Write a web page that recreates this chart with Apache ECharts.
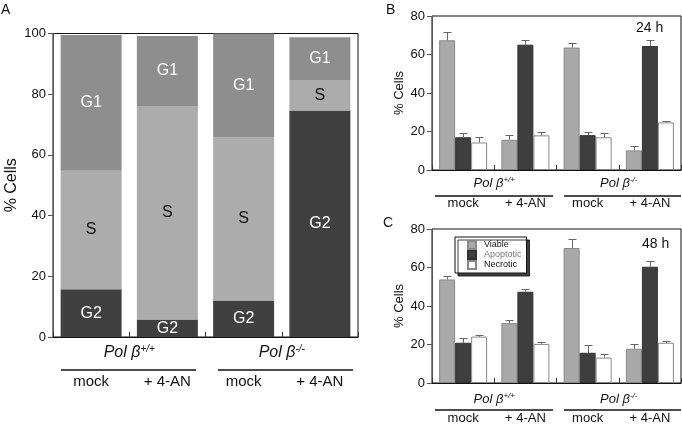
<!DOCTYPE html>
<html>
<head>
<meta charset="utf-8">
<script src="https://cdn.jsdelivr.net/npm/echarts@6/dist/echarts.min.js"></script>
<style>html,body{margin:0;padding:0;background:#fff;}#c{width:682px;height:425px;}</style>
</head>
<body>
<div id="c"></div>
<script>
// ---- data ----
var treatments = ['mock', '+ 4-AN', 'mock', '+ 4-AN'];
var genotypes = ['+/+', '-/-'];
var yTicksA = [0, 20, 40, 60, 80, 100];
var yTicksBC = [0, 20, 40, 60, 80];

// Panel A: cell cycle phases (%)
var phaseG2 = [15.7, 5.8, 12.0, 74.6];
var phaseS  = [39.1, 70.3, 53.7, 10.1];
var phaseG1 = [44.7, 23.1, 34.3, 14.1];

// Panel B: 24 h
var viable24    = [67.4, 15.7, 63.6, 10.2];
var viable24Err = [4.3, 2.3, 2.6, 2.2];
var apopt24     = [17.0, 65.1, 18.1, 64.4];
var apopt24Err  = [2.0, 2.3, 1.9, 3.0];
var necro24     = [14.3, 18.0, 17.0, 24.7];
var necro24Err  = [3.1, 1.5, 2.0, 1.0];

// Panel C: 48 h
var viable48    = [53.8, 31.1, 70.1, 17.8];
var viable48Err = [1.9, 1.6, 4.8, 2.7];
var apopt48     = [20.9, 47.4, 15.7, 60.4];
var apopt48Err  = [2.5, 1.5, 4.1, 2.8];
var necro48     = [24.1, 20.3, 13.2, 20.9];
var necro48Err  = [0.9, 1.1, 2.0, 1.0];

// ---- styles ----
var FONT = 'Liberation Sans, Arial, Helvetica, sans-serif';
var cG1 = '#8e8e8e', cS = '#acacac', cG2 = '#404040';
var cViable = '#a9a9a9', cApopt = '#3e3e3e', cNecro = '#ffffff';
var BARW = 16;

function yAxis(grid, max, nameSize, gap) {
  return {
    type: 'value', gridIndex: grid, min: 0, max: max, interval: 20,
    name: '% Cells', nameLocation: 'middle', nameGap: gap,
    nameTextStyle: { fontFamily: FONT, fontSize: nameSize, color: '#111' },
    axisLine: { show: true, lineStyle: { color: '#555', width: 1 } },
    axisTick: { show: true, inside: false, length: 5, lineStyle: { color: '#555' } },
    axisLabel: { fontFamily: FONT, fontSize: 13, color: '#111', margin: 7 },
    splitLine: { show: false }
  };
}
function xAxisMain(grid, margin, fs) {
  return {
    type: 'category', gridIndex: grid, data: treatments,
    axisLine: { show: true, lineStyle: { color: '#111', width: 1 } },
    axisTick: { show: true, inside: true, length: 5, interval: 0, lineStyle: { color: '#333' } },
    axisLabel: { fontFamily: FONT, fontSize: fs, color: '#111', margin: margin, interval: 0 },
    splitLine: { show: false }
  };
}
function xAxisGroup(grid, margin, fs) {
  return {
    type: 'category', gridIndex: grid, data: genotypes, position: 'bottom',
    axisLine: { show: false }, axisTick: { show: false }, splitLine: { show: false },
    axisLabel: {
      margin: margin, interval: 0,
      formatter: function (v) { return '{i|Pol β}{s|' + v + '}'; },
      rich: {
        i: { fontFamily: FONT, fontStyle: 'italic', fontSize: fs, color: '#111', lineHeight: fs + 2 },
        s: { fontFamily: FONT, fontStyle: 'italic', fontSize: Math.round(fs * 0.65), color: '#111', verticalAlign: 'top', lineHeight: fs + 2 }
      }
    }
  };
}
function errSeries(name, xi, yi, vals, errs, k) {
  var d = vals.map(function (v, i) { return [i, v, errs[i], k]; });
  return {
    type: 'custom', name: name + ' err', xAxisIndex: xi, yAxisIndex: yi, z: 5, silent: true,
    data: d,
    renderItem: function (params, api) {
      var c = api.value(0), v = api.value(1), e = api.value(2), kk = api.value(3);
      var p0 = api.coord([c, v]), p1 = api.coord([c, v + e]);
      var x = Math.round(p0[0] + (kk - 1) * BARW) + 0.5;
      var y1 = Math.round(p1[1]) + 0.5;
      return {
        type: 'group', children: [
          { type: 'line', shape: { x1: x, y1: p0[1], x2: x, y2: y1 }, style: { stroke: '#666', lineWidth: 1 } },
          { type: 'line', shape: { x1: x - 4, y1: y1, x2: x + 4, y2: y1 }, style: { stroke: '#666', lineWidth: 1 } }
        ]
      };
    }
  };
}
function barSeries(name, xi, yi, vals, color, border) {
  return {
    type: 'bar', name: name, xAxisIndex: xi, yAxisIndex: yi, data: vals,
    barWidth: BARW, barGap: '0%',
    itemStyle: { color: color, borderColor: border, borderWidth: 1 }
  };
}
function phaseSeries(name, vals, color, txt) {
  return {
    type: 'bar', name: name, stack: 'A', xAxisIndex: 0, yAxisIndex: 0, data: vals,
    barWidth: 61,
    itemStyle: { color: color },
    label: { show: true, position: 'inside', formatter: name, fontFamily: FONT, fontSize: 16, color: txt }
  };
}

var chart = echarts.init(document.getElementById('c'), null, { renderer: 'canvas' });
var option = {
  animation: false,
  backgroundColor: '#fff',
  grid: [
    { left: 53, right: 324, top: 33.5, bottom: 88, show: true, borderColor: '#111', borderWidth: 1 },
    { left: 432, right: 1, top: 16, bottom: 255, show: true, borderColor: '#111', borderWidth: 1 },
    { left: 432, right: 1, top: 229, bottom: 40, show: true, borderColor: '#111', borderWidth: 1 }
  ],
  xAxis: [
    xAxisMain(0, 37, 15), xAxisMain(1, 27, 13), xAxisMain(2, 29, 13),
    xAxisGroup(0, 7, 16), xAxisGroup(1, 6, 13), xAxisGroup(2, 9, 13)
  ],
  yAxis: [yAxis(0, 100, 16, 33), yAxis(1, 80, 13, 26), yAxis(2, 80, 13, 26)],
  legend: {
    data: [
      { name: 'Viable', textStyle: { color: '#111' } },
      { name: 'Apoptotic', textStyle: { color: '#777' } },
      { name: 'Necrotic', textStyle: { color: '#111' } }
    ],
    orient: 'vertical', left: 455, top: 237,
    itemWidth: 8, itemHeight: 8, itemGap: 0, icon: 'rect',
    padding: [3, 5, 3, 12],
    textStyle: { fontFamily: FONT, fontSize: 9, lineHeight: 10, padding: [0, 0, 0, 3] },
    backgroundColor: '#fff', borderColor: '#111', borderWidth: 1,
    shadowColor: 'rgba(0,0,0,0.75)', shadowBlur: 0, shadowOffsetX: 3, shadowOffsetY: 3,
    selectedMode: false
  },
  graphic: [
    { type: 'text', left: 1, top: 3, style: { text: 'A', font: '14px ' + FONT, fill: '#111' } },
    { type: 'text', left: 386, top: 3, style: { text: 'B', font: '14px ' + FONT, fill: '#111' } },
    { type: 'text', left: 383, top: 216, style: { text: 'C', font: '14px ' + FONT, fill: '#111' } },
    { type: 'text', left: 636, top: 21, style: { text: '24 h', font: '14px ' + FONT, fill: '#111' } },
    { type: 'text', left: 642, top: 237, style: { text: '48 h', font: '14px ' + FONT, fill: '#111' } },
    { type: 'line', shape: { x1: 61, y1: 370, x2: 196, y2: 370 }, style: { stroke: '#111', lineWidth: 1.5 } },
    { type: 'line', shape: { x1: 218, y1: 370, x2: 353, y2: 370 }, style: { stroke: '#111', lineWidth: 1.5 } },
    { type: 'line', shape: { x1: 435, y1: 196, x2: 553, y2: 196 }, style: { stroke: '#111', lineWidth: 1.5 } },
    { type: 'line', shape: { x1: 564, y1: 196, x2: 681, y2: 196 }, style: { stroke: '#111', lineWidth: 1.5 } },
    { type: 'line', shape: { x1: 435, y1: 410, x2: 553, y2: 410 }, style: { stroke: '#111', lineWidth: 1.5 } },
    { type: 'line', shape: { x1: 564, y1: 410, x2: 681, y2: 410 }, style: { stroke: '#111', lineWidth: 1.5 } }
  ],
  series: [
    phaseSeries('G2', phaseG2, cG2, '#fff'),
    phaseSeries('S', phaseS, cS, '#111'),
    phaseSeries('G1', phaseG1, cG1, '#fff'),

    barSeries('Viable', 1, 1, viable24, cViable, '#888'),
    barSeries('Apoptotic', 1, 1, apopt24, cApopt, '#333'),
    barSeries('Necrotic', 1, 1, necro24, cNecro, '#888'),
    errSeries('Viable', 1, 1, viable24, viable24Err, 0),
    errSeries('Apoptotic', 1, 1, apopt24, apopt24Err, 1),
    errSeries('Necrotic', 1, 1, necro24, necro24Err, 2),

    barSeries('Viable', 2, 2, viable48, cViable, '#888'),
    barSeries('Apoptotic', 2, 2, apopt48, cApopt, '#333'),
    barSeries('Necrotic', 2, 2, necro48, cNecro, '#888'),
    errSeries('Viable', 2, 2, viable48, viable48Err, 0),
    errSeries('Apoptotic', 2, 2, apopt48, apopt48Err, 1),
    errSeries('Necrotic', 2, 2, necro48, necro48Err, 2)
  ]
};
chart.setOption(option);
</script>
</body>
</html>
